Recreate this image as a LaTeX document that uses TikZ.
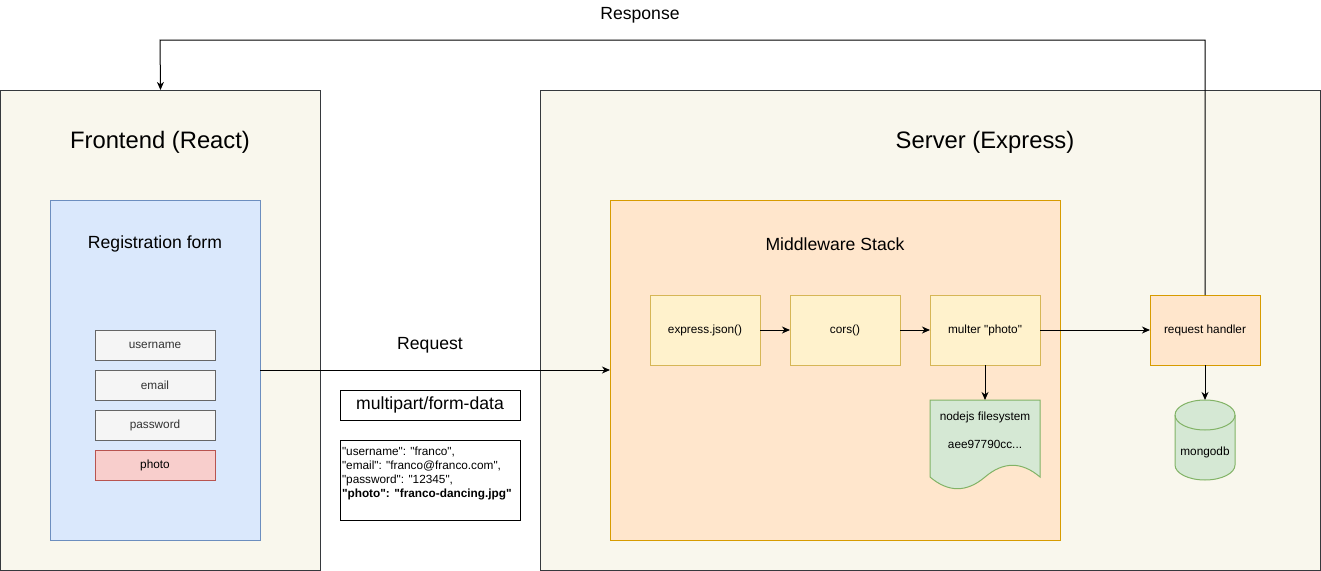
\documentclass[tikz,border=0pt]{standalone}
\usepackage{fontspec}
\setmainfont{Liberation Sans}
\usetikzlibrary{arrows.meta,calc}
\definecolor{bgbox}{HTML}{F9F7ED}
\definecolor{bgline}{HTML}{36393D}
\definecolor{bluef}{HTML}{DAE8FC}
\definecolor{bluel}{HTML}{6C8EBF}
\definecolor{grayf}{HTML}{F5F5F5}
\definecolor{grayl}{HTML}{666666}
\definecolor{grayt}{HTML}{333333}
\definecolor{redf}{HTML}{F8CECC}
\definecolor{redl}{HTML}{B85450}
\definecolor{orangef}{HTML}{FFE6CC}
\definecolor{orangel}{HTML}{D79B00}
\definecolor{yellowf}{HTML}{FFF2CC}
\definecolor{yellowl}{HTML}{D6B656}
\definecolor{greenf}{HTML}{D5E8D4}
\definecolor{greenl}{HTML}{82B366}
\newcommand\tkbig{\fontsize{17.85pt}{21pt}\selectfont}
\newcommand\tkmed{\fontsize{13.2pt}{16pt}\selectfont}
\newcommand\tksmall{\fontsize{8.85pt}{10.5pt}\selectfont}
\newcommand\dq{\textquotedbl}
\begin{document}
\begin{tikzpicture}[x=0.75pt,y=-0.75pt,line width=0.75pt,
  every node/.style={inner sep=0pt,outer sep=0pt},
  container/.style={draw=bgline,fill=bgbox,minimum width=#1},
  field/.style={draw=grayl,fill=grayf,text=grayt,font=\tksmall,minimum width=90pt,minimum height=22.5pt},
  mwbox/.style={draw=yellowl,fill=yellowf,font=\tksmall,minimum width=82.5pt,minimum height=52.5pt},
  arr/.style={-{Stealth[length=6pt,width=5.2pt,inset=1.8pt]}},
  title/.style={font=\tkbig},
  mlabel/.style={font=\tkmed}
]
\useasboundingbox (0,0) rectangle (1321,571);
% containers
\node[container=240pt,minimum height=360pt] (frontend) at (160.5,330) {};
\node[container=585pt,minimum height=360pt] (server) at (930,330) {};
\node[title] (fetitle) at (160,142.5) {Frontend (React)};
\node[title] (svtitle) at (985,142.5) {Server (Express)};
% registration form
\node[draw=bluel,fill=bluef,minimum width=157.5pt,minimum height=255pt] (regform) at (155,370) {};
\node[mlabel] (regtitle) at (155,244) {Registration form};
\node[field] (username) at (155,345) {username};
\node[field] (email) at (155,385) {email};
\node[field] (password) at (155,425) {password};
\node[field,draw=redl,fill=redf,text=black] (photo) at (155,465) {photo};
% middleware
\node[draw=orangel,fill=orangef,minimum width=337.5pt,minimum height=255pt] (mw) at (835,370) {};
\node[mlabel] (mwtitle) at (835,244) {Middleware Stack};
\node[mwbox] (express) at (705,330) {express.json()};
\node[mwbox] (cors) at (845,330) {cors()};
\node[mwbox] (multer) at (985,330) {multer \dq photo\dq};
\node[mwbox,draw=orangel,fill=orangef] (handler) at (1205,330) {request handler};
% filesystem document
\node[minimum width=82.5pt,minimum height=67.5pt] (fs) at (985,445) {};
\filldraw[fill=greenf,draw=greenl] (930,400) -- (1040,400) -- (1040,477)
  .. controls (1021.67,461.4) and (1003.33,461.4) .. (985,477)
  .. controls (966.67,492.6) and (948.33,492.6) .. (930,477) -- cycle;
\node[font=\tksmall,align=center] (fstext) at (985,430) {nodejs filesystem\\[10.5pt]aee97790cc...};
% mongodb cylinder
\node[minimum width=45pt,minimum height=60pt] (mongo) at (1205,440) {};
\filldraw[fill=greenf,draw=greenl] (1175,415) -- (1175,465)
  arc[start angle=180,end angle=0,x radius=30,y radius=15] -- (1235,415)
  arc[start angle=0,end angle=-180,x radius=30,y radius=15] -- cycle;
\draw[greenl] (1175,415) arc[start angle=180,end angle=0,x radius=30,y radius=15];
\node[font=\tksmall] (mongotext) at (1205,452) {mongodb};
% request payload
\node[mlabel] (reqlbl) at (430,345) {Request};
\node[draw,font=\tkmed,minimum width=135pt,minimum height=22.5pt] (mp) at (430,405) {multipart/form-data};
\node[draw,minimum width=135pt,minimum height=60pt] (json) at (430,480) {};
\node[font=\tksmall,align=left,anchor=north west] (jsontext) at (342,446.5)
  {\dq username\dq: \dq franco\dq,\\\dq email\dq: \dq franco@franco.com\dq,\\\dq password\dq: \dq 12345\dq,\\\textbf{\dq photo\dq: \dq franco-dancing.jpg\dq}};
% connectors
\draw[arr] (regform.east) -- (mw.west);
\draw[arr] (express) -- (cors);
\draw[arr] (cors) -- (multer);
\draw[arr] (multer) -- (handler);
\draw[arr] (multer.south) -- (fs.north);
\draw[arr] (handler.south) -- (mongo.north);
\coordinate (top) at (160,40);
\draw[arr] (handler.north) |- (top) -- (frontend.north);
\node[mlabel] (resplbl) at (640,15) {Response};
\end{tikzpicture}
\end{document}
